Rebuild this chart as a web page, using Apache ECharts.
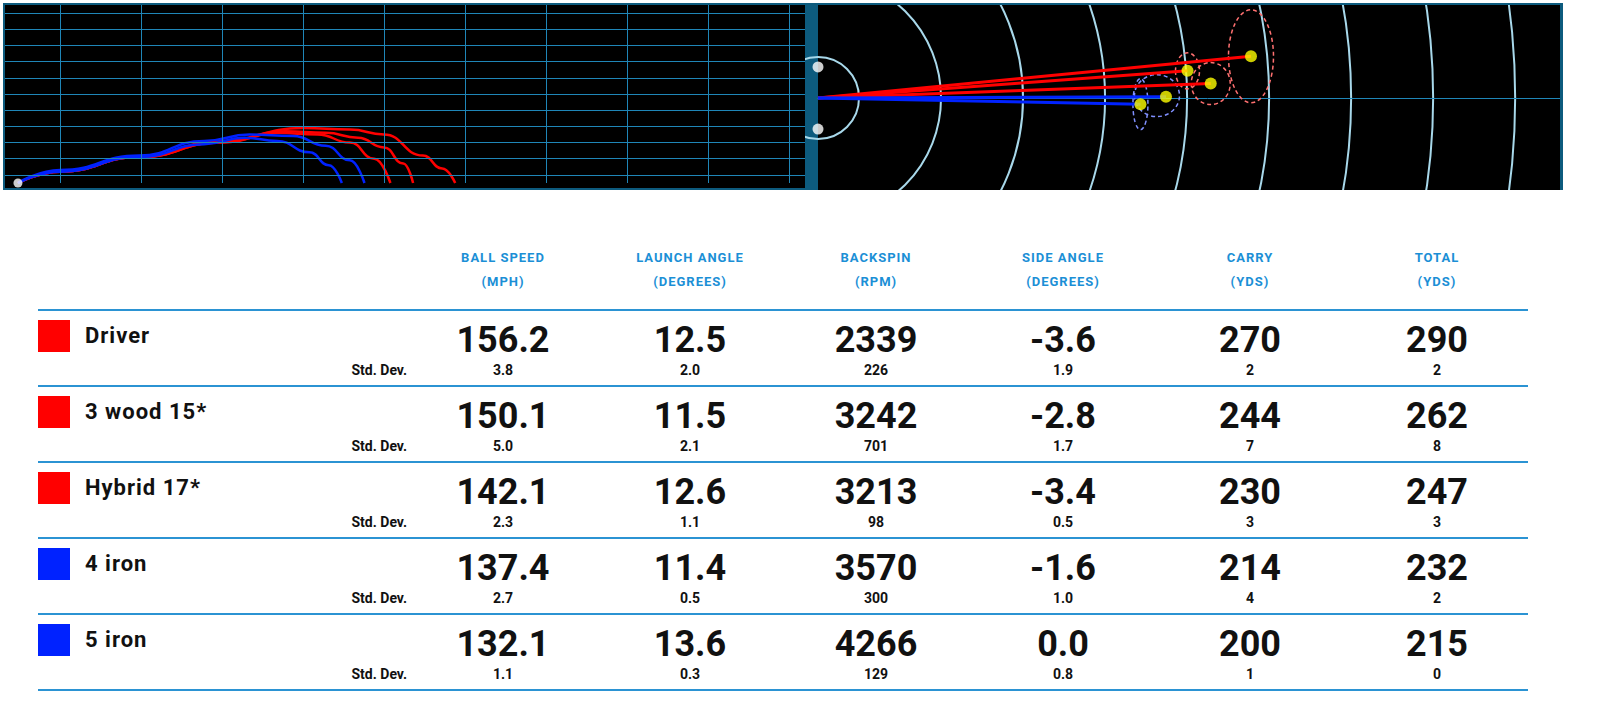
<!DOCTYPE html>
<html>
<head>
<meta charset="utf-8">
<script src="https://cdn.jsdelivr.net/npm/echarts@6/dist/echarts.min.js"></script>
<style>
  body{margin:0;width:1610px;height:719px;background:#fff;position:relative;overflow:hidden;font-family:Roboto,"DejaVu Sans",sans-serif;}
  .abs{position:absolute;}
  #frame{left:3px;top:3px;width:1560px;height:187px;background:#0d5b7e;}
  #left{left:5px;top:5px;width:800px;height:183px;}
  #rightWrap{left:805px;top:5px;width:755px;height:185px;overflow:hidden;
    background:linear-gradient(to right,#0d5b7e 0,#0d5b7e 13px,#000 13px);}
  #right{left:-837px;top:-757px;width:1700px;height:1700px;}
  .hd{color:#1b8fd6;font-weight:700;font-size:13px;letter-spacing:1px;text-align:center;width:200px;transform:translateX(-100px);}
  .sep{left:38px;width:1490px;height:2px;background:#2b93d3;}
  .sq{left:38px;width:32px;height:32px;}
  .name{left:85px;font-weight:700;font-size:22px;letter-spacing:1px;color:#111;}
  .big{font-weight:700;font-size:36px;color:#111;text-align:center;width:200px;transform:translateX(-100px);}
  .sd{font-weight:700;font-size:14px;color:#111;text-align:center;width:200px;transform:translateX(-100px);}
  .sdl{font-weight:700;font-size:14px;color:#111;text-align:right;width:120px;left:287px;}
</style>
</head>
<body>
<div id="frame" class="abs"></div>
<div id="left" class="abs"></div>
<div id="rightWrap" class="abs"><div id="right" class="abs"></div></div>
<div id="table"></div>
<script>
// --- data ---
var clubs = ['Driver', '3 wood 15*', 'Hybrid 17*', '4 iron', '5 iron'];
var clubColors = ['#ff0000', '#ff0000', '#ff0000', '#0022ff', '#0022ff'];
var headers = ['BALL SPEED', 'LAUNCH ANGLE', 'BACKSPIN', 'SIDE ANGLE', 'CARRY', 'TOTAL'];
var units = ['(MPH)', '(DEGREES)', '(RPM)', '(DEGREES)', '(YDS)', '(YDS)'];
var values = [
  ['156.2', '12.5', '2339', '-3.6', '270', '290'],
  ['150.1', '11.5', '3242', '-2.8', '244', '262'],
  ['142.1', '12.6', '3213', '-3.4', '230', '247'],
  ['137.4', '11.4', '3570', '-1.6', '214', '232'],
  ['132.1', '13.6', '4266', '0.0', '200', '215']
];
var stdDevs = [
  ['3.8', '2.0', '226', '1.9', '2', '2'],
  ['5.0', '2.1', '701', '1.7', '7', '8'],
  ['2.3', '1.1', '98', '0.5', '3', '3'],
  ['2.7', '0.5', '300', '1.0', '4', '2'],
  ['1.1', '0.3', '129', '0.8', '1', '0']
];
// side view trajectories [yards downrange, height]
var trajDriver = [[0,0],[26,7],[75,16],[125,26],[176,34],[205,33],[226,30],[250,17],[262,9],[270,0]];
var traj3wood  = [[0,0],[26,7],[75,16],[125,25],[165,32],[190,31],[210,28],[226,22],[238,12],[244,0]];
var trajHybrid = [[0,0],[26,7],[75,16],[125,25],[160,31],[185,30],[205,25],[220,15],[230,0]];
var traj4iron  = [[0,0],[26,8],[75,17],[115,26],[143,30],[170,29],[190,23],[205,14],[214,0]];
var traj5iron  = [[0,0],[26,7],[75,16],[115,24],[140,28],[160,26],[180,19],[192,11],[200,0]];
var xGridYds = [26, 76, 126, 176, 226, 276, 326, 376, 426, 476];
var yGridUnits = [5, 15, 25, 35, 45, 55, 65, 75, 85, 95, 105];
// top view landing points [total yds, angle deg (+ = up)]
var landTotal = [290, 262, 247, 232, 215];
var landAngle = [5.5, 2.1, 4.2, 0.2, -1.1];
// dispersion ellipses [yds, angle, half depth yds, half width yds]
var ellipses = [[290, 5.5, 15, 31], [262, 2.1, 13, 14], [247, 4.2, 8, 12], [226, 0.4, 15, 14], [215, -1.1, 5, 17]];
var ringStep = 27.34; // 25 m in yards

// --- side view ---
var trajs = [trajDriver, traj3wood, trajHybrid, traj4iron, traj5iron];
var leftSeries = trajs.map(function(t, i){
  return {type:'line', data:t, smooth:0.5, smoothMonotone:'x', symbol:'none',
    lineStyle:{color:clubColors[i], width:2.5}, z: i < 3 ? 3 : 4};
});
leftSeries.push({type:'scatter', data:[[0,0]], symbolSize:9, itemStyle:{color:'#fff'}, z:5});
leftSeries.push({type:'line', data:[], markLine:{silent:true, symbol:'none', label:{show:false},
  lineStyle:{color:'#1f86b8', width:1, type:'solid'},
  data: xGridYds.map(function(v){return {xAxis:v};}).concat(yGridUnits.map(function(v){return {yAxis:v};}))}});
var leftChart = echarts.init(document.getElementById('left'));
leftChart.setOption({
  backgroundColor:'#000',
  animation:false,
  grid:{left:0, right:0, top:0, bottom:5},
  xAxis:{type:'value', min:-8, max:486, show:false},
  yAxis:{type:'value', min:0, max:110, show:false},
  series:leftSeries
});

// --- top view ---
var toAng = function(a){ return (a + 360) % 360; };
var rightSeries = landTotal.map(function(r, i){
  return {type:'line', coordinateSystem:'polar', data:[[0,0],[r, toAng(landAngle[i])]], symbol:'none',
    lineStyle:{color:clubColors[i], width:3}, z:3};
});
rightSeries.push({type:'custom', coordinateSystem:'polar', z:2,
  data: ellipses.map(function(e, i){ return [e[0], toAng(e[1]), e[2], e[3], i]; }),
  renderItem:function(params, api){
    var c = api.coord([api.value(0), api.value(1)]);
    var p = api.coord([api.value(0) + api.value(2), api.value(1)]);
    var rx = Math.sqrt((p[0]-c[0])*(p[0]-c[0]) + (p[1]-c[1])*(p[1]-c[1]));
    var ry = rx / api.value(2) * api.value(3);
    var red = api.value(4) < 3;
    var d = 'M' + (c[0]-rx) + ' ' + c[1] + ' A' + rx + ' ' + ry + ' 0 1 0 ' + (c[0]+rx) + ' ' + c[1] +
            ' A' + rx + ' ' + ry + ' 0 1 0 ' + (c[0]-rx) + ' ' + c[1] + ' Z';
    return {type:'path', shape:{pathData:d}, style:{fill:null, stroke: red ? '#ff7070' : '#8090ff', lineWidth:1.5, lineDash:[4,3]}};
  }
});
rightSeries.push({type:'scatter', coordinateSystem:'polar', z:5, symbolSize:12, itemStyle:{color:'#ffff00'},
  data: landTotal.map(function(r, i){ return [r, toAng(landAngle[i])]; })});
rightSeries.push({type:'scatter', coordinateSystem:'polar', z:5, symbolSize:11, itemStyle:{color:'#fff'},
  data:[[20.7, 90], [20.7, 270]]});
var rightChart = echarts.init(document.getElementById('right'));
rightChart.setOption({
  animation:false,
  polar:{center:[850, 850], radius:ringStep * 19 * 1.5},
  angleAxis:{type:'value', min:0, max:360, startAngle:0, clockwise:false,
    axisLine:{show:false}, axisTick:{show:false}, axisLabel:{show:false}, splitLine:{show:false}},
  radiusAxis:{type:'value', min:0, max:ringStep * 19, interval:ringStep,
    axisLine:{lineStyle:{color:'#1f86b8', width:1}}, axisTick:{show:false}, axisLabel:{show:false},
    splitLine:{show:true, lineStyle:{color:['transparent', '#a8d8ea'], width:2}}},
  series:rightSeries
});

// --- table ---
var html = '';
var colX = [503, 690, 876, 1063, 1250, 1437];
headers.forEach(function(h, i){
  html += '<div class="abs hd" style="left:' + colX[i] + 'px;top:250px">' + h + '</div>';
  html += '<div class="abs hd" style="left:' + colX[i] + 'px;top:274px">' + units[i] + '</div>';
});
for (var k = 0; k <= clubs.length; k++) {
  html += '<div class="abs sep" style="top:' + (309 + k * 76) + 'px"></div>';
}
clubs.forEach(function(c, r){
  var y = 310 + r * 76;
  html += '<div class="abs sq" style="top:' + (y + 10) + 'px;background:' + clubColors[r] + '"></div>';
  html += '<div class="abs name" style="top:' + (y + 13) + 'px">' + c + '</div>';
  html += '<div class="abs sdl" style="top:' + (y + 52) + 'px">Std. Dev.</div>';
  values[r].forEach(function(v, i){
    html += '<div class="abs big" style="left:' + colX[i] + 'px;top:' + (y + 9) + 'px">' + v + '</div>';
    html += '<div class="abs sd" style="left:' + colX[i] + 'px;top:' + (y + 52) + 'px">' + stdDevs[r][i] + '</div>';
  });
});
document.getElementById('table').innerHTML = html;
</script>
</body>
</html>
